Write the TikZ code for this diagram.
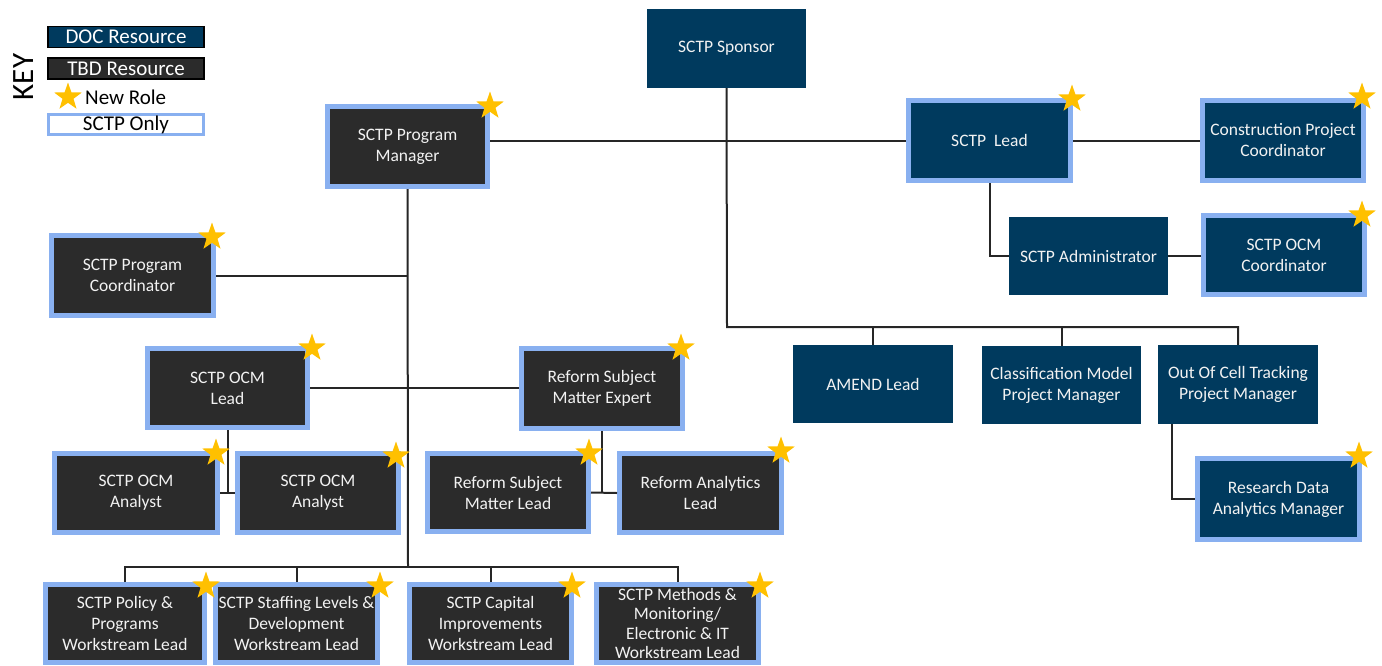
\documentclass[tikz,border=0pt]{standalone}
\usepackage{fontspec}
\setmainfont{Carlito}
\usetikzlibrary{shapes.geometric}
\definecolor{docblue}{RGB}{0,58,94}
\definecolor{tbdgray}{RGB}{43,43,43}
\definecolor{sctpblue}{RGB}{137,176,240}
\definecolor{gold}{RGB}{255,192,0}
\definecolor{linecol}{RGB}{38,38,38}
\definecolor{boxtext}{RGB}{242,242,242}
\begin{document}
\begin{tikzpicture}[x=1pt,y=-1pt,
  base/.style={rectangle, inner sep=0pt, align=center, text=boxtext, font=\fontsize{17.5}{21}\selectfont},
  docbox/.style={base, fill=docblue},
  docsctp/.style={base, fill=docblue, draw=sctpblue, line width=5pt},
  tbdsctp/.style={base, fill=tbdgray, draw=sctpblue, line width=5pt},
  newrole/.style={star, star points=5, star point ratio=2.5, fill=gold, draw=none, inner sep=0pt, minimum size=29pt},
  link/.style={draw=linecol, line width=2pt},
  keybox/.style={rectangle, inner sep=0pt, align=center, font=\fontsize{21}{22}\selectfont, minimum width=156pt, minimum height=21pt}]
\useasboundingbox (0,0) rectangle (1382,665);

% ---------- key ----------
\node[rotate=90, font=\fontsize{31}{33}\selectfont] (key) at (24,77) {KEY};
\node[keybox, fill=docblue, draw=black, line width=1.5pt, text=white] (kdoc) at (126,37) {DOC Resource};
\node[keybox, fill=tbdgray, draw=black, line width=1.5pt, text=white] (ktbd) at (126,68.5) {TBD Resource};
\node[newrole] (kstar) at (68,97) {};
\node[anchor=west, inner sep=0pt, font=\fontsize{21}{22}\selectfont] (knew) at (85,97) {New Role};
\node[keybox, fill=white, draw=sctpblue, line width=3pt, minimum width=155pt, minimum height=20pt] (konly) at (126,124.5) {SCTP Only};

% ---------- nodes ----------
\node[docbox, minimum width=159pt, minimum height=79pt] (sp) at (726.5,48.5) {SCTP Sponsor};
\node[tbdsctp, minimum width=160pt, minimum height=80pt] (pm) at (407.5,146.5) {SCTP Program\\Manager};
\node[docsctp, minimum width=162pt, minimum height=80pt] (lead) at (989.5,140.5) {SCTP\ \ Lead};
\node[docsctp, minimum width=161pt, minimum height=80pt] (cpc) at (1283,140.5) {Construction Project\\Coordinator};
\node[docbox, minimum width=159pt, minimum height=78pt] (adm) at (1088.5,256) {SCTP Administrator};
\node[docsctp, minimum width=161pt, minimum height=79pt] (ocmc) at (1284,255) {SCTP OCM\\Coordinator};
\node[tbdsctp, minimum width=162pt, minimum height=80pt] (pc) at (132.5,275.5) {SCTP Program\\Coordinator};
\node[tbdsctp, minimum width=160pt, minimum height=79pt] (ocml) at (227.5,388) {SCTP OCM\\Lead};
\node[tbdsctp, minimum width=161pt, minimum height=80pt] (rsme) at (602,388.5) {Reform Subject\\Matter Expert};
\node[docbox, minimum width=160pt, minimum height=78pt] (amend) at (873,384) {AMEND Lead};
\node[docbox, minimum width=159pt, minimum height=78pt] (cls) at (1061.5,385) {Classification Model\\Project Manager};
\node[docbox, minimum width=160pt, minimum height=79pt] (ooct) at (1238,384.5) {Out Of Cell Tracking\\Project Manager};
\node[tbdsctp, minimum width=163pt, minimum height=79pt] (an1) at (136,493) {SCTP OCM\\Analyst};
\node[tbdsctp, minimum width=161pt, minimum height=79pt] (an2) at (318,493) {SCTP OCM\\Analyst};
\node[tbdsctp, minimum width=161pt, minimum height=78pt] (rsml) at (508,492.5) {Reform Subject\\Matter Lead};
\node[tbdsctp, minimum width=162pt, minimum height=79pt] (ral) at (700.5,493) {Reform Analytics\\Lead};
\node[docsctp, minimum width=162pt, minimum height=81pt] (rdam) at (1278.5,499) {Research Data\\Analytics Manager};
\node[tbdsctp, minimum width=159pt, minimum height=78pt] (pol) at (125,623.5) {SCTP Policy \&\\Programs\\Workstream Lead};
\node[tbdsctp, minimum width=162pt, minimum height=78pt] (stf) at (296.5,623.5) {SCTP Staffing Levels \&\\Development\\Workstream Lead};
\node[tbdsctp, minimum width=162pt, minimum height=78pt] (cap) at (490.5,623.5) {SCTP Capital\\Improvements\\Workstream Lead};
\node[tbdsctp, minimum width=162pt, minimum height=78pt, font=\fontsize{17.5}{19.5}\selectfont] (mth) at (677.5,623.5) {SCTP Methods \&\\Monitoring/\\Electronic \& IT\\Workstream Lead};

% ---------- connectors ----------
\coordinate (rbus) at (727,327);
\coordinate (lbus) at (408,567);
\draw[link] (sp.south) -- (rbus) -| (ooct.north);
\draw[link] (amend.north) -- (amend.north |- rbus);
\draw[link] (cls.north) -- (cls.north |- rbus);
\draw[link] (lead.west -| pm.east) -- (lead.west);
\draw[link] (lead.east) -- (cpc.west);
\draw[link] (lead.south) |- (adm.west);
\draw[link] (adm.east) -- (adm.east -| ocmc.west);
\draw[link] (pm.south) -- (lbus);
\draw[link] (pol.north) -- (pol.north |- lbus) -- (mth.north |- lbus) -- (mth.north);
\draw[link] (stf.north) -- (stf.north |- lbus);
\draw[link] (cap.north) -- (cap.north |- lbus);
\draw[link] (pc.east) -- (pc.east -| pm.south);
\draw[link] (ocml.east) -- (ocml.east -| rsme.west);
\draw[link] (ocml.south) -- (ocml.south |- an1.east);
\draw[link] (an1.east) -- (an2.west);
\draw[link] (rsme.south) -- (rsme.south |- rsml.east);
\draw[link] (rsml.east) -- (ral.west);
\draw[link] ([xshift=14pt]ooct.south west) |- (rdam.west);

% ---------- new-role stars ----------
\node[newrole] (s1) at (490,106) {};
\node[newrole] (s2) at (1072,99) {};
\node[newrole] (s3) at (1362,97) {};
\node[newrole] (s4) at (1362,215) {};
\node[newrole] (s5) at (212,237) {};
\node[newrole] (s6) at (312,348) {};
\node[newrole] (s7) at (681,348) {};
\node[newrole] (s8) at (216,453) {};
\node[newrole] (s9) at (396,456) {};
\node[newrole] (s10) at (589,453) {};
\node[newrole] (s11) at (781,451) {};
\node[newrole] (s12) at (1359,456) {};
\node[newrole] (s13) at (206,586) {};
\node[newrole] (s14) at (380,586) {};
\node[newrole] (s15) at (572,586) {};
\node[newrole] (s16) at (760,586) {};
\end{tikzpicture}
\end{document}
